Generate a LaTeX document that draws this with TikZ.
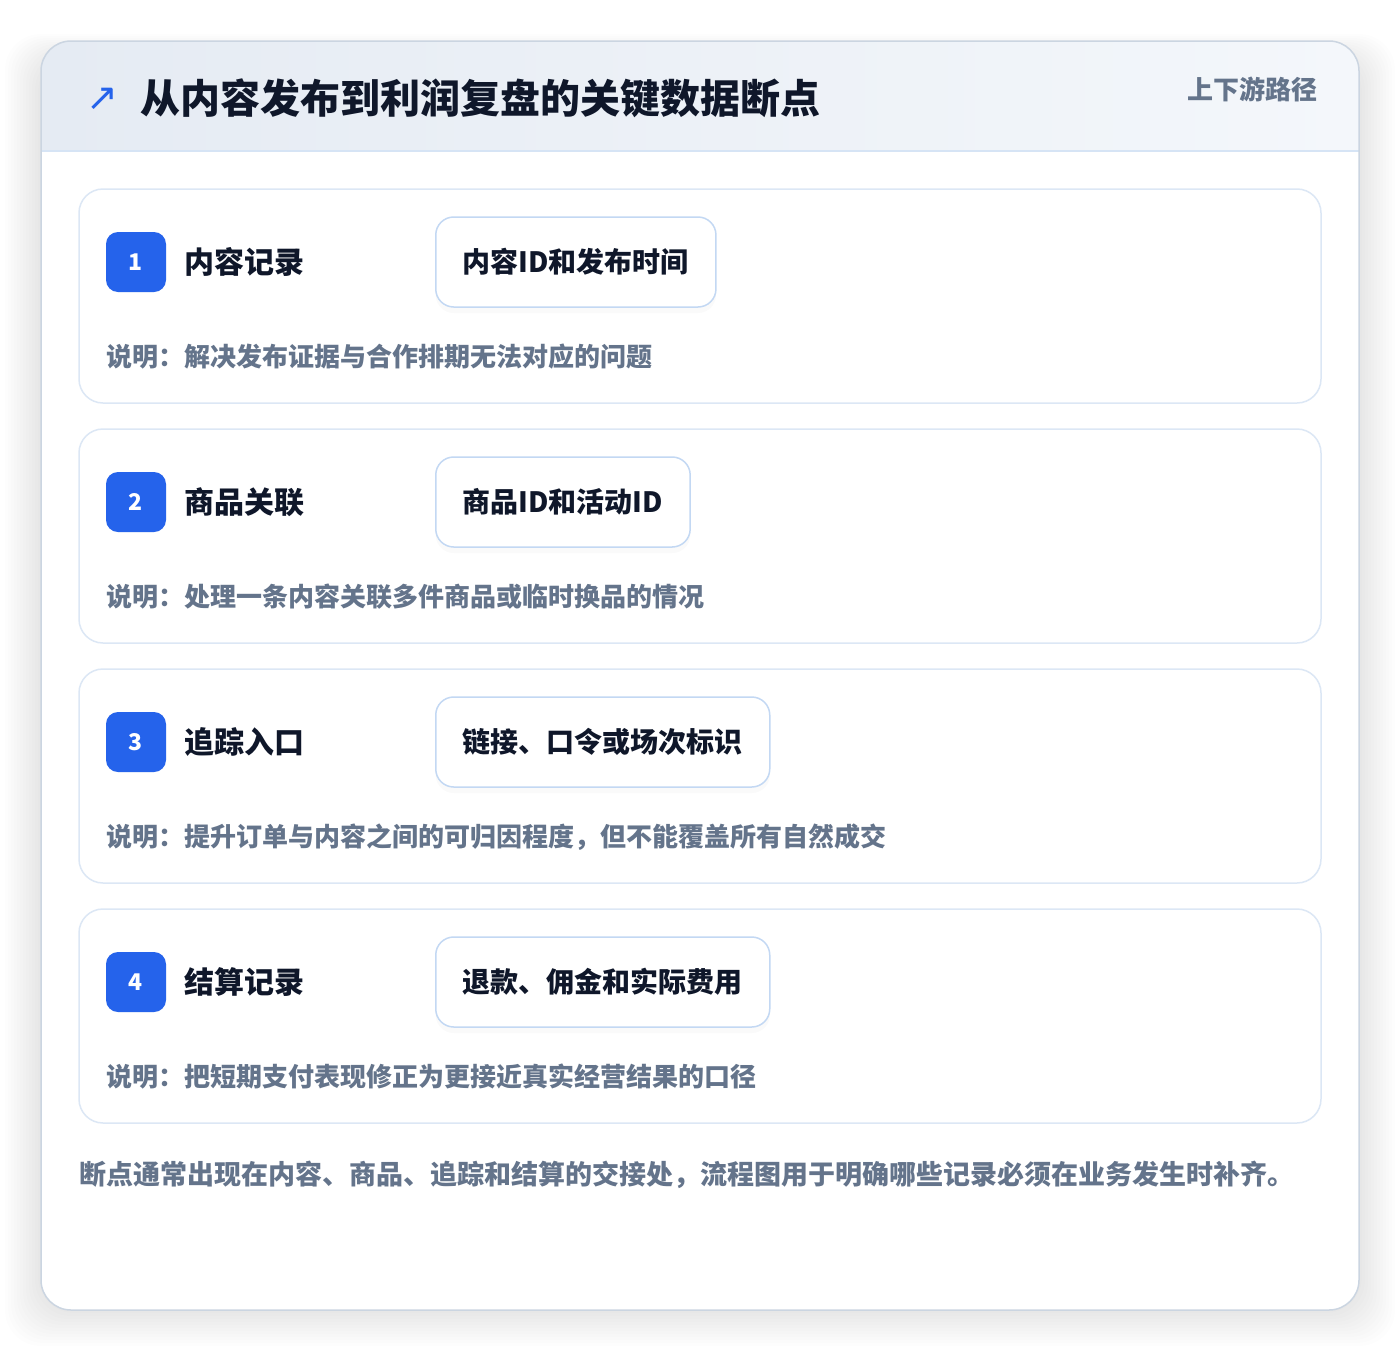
\documentclass[tikz,border=0pt]{standalone}
\usepackage{fontspec}
\setmainfont{Noto Sans CJK SC}
\newfontfamily\symfont{DejaVu Sans}
\usetikzlibrary{positioning,shadows}
\definecolor{ink}{HTML}{0F172A}
\definecolor{muted}{HTML}{64748B}
\definecolor{brand}{HTML}{2563EB}
\definecolor{cardline}{HTML}{CBD5E1}
\definecolor{stepline}{HTML}{DCE7F5}
\definecolor{tagline}{HTML}{C3D8F3}
\definecolor{headl}{HTML}{E5EBF3}
\definecolor{headr}{HTML}{F4F7FB}
\definecolor{headline}{HTML}{D6E4F5}
\tikzstyle{stepcard} = [draw=stepline, line width=1.5pt, fill=white, rounded corners=24pt, minimum width=1242pt, minimum height=214pt]
\tikzstyle{badge} = [fill=brand, rounded corners=12pt, minimum width=60pt, minimum height=60pt, inner sep=0pt, text=white, font=\fontsize{23}{25}\selectfont\bfseries]
\tikzstyle{steptitle} = [anchor=west, inner sep=0pt, text=ink, font=\fontsize{30}{32}\selectfont\bfseries]
\tikzstyle{tag} = [draw=tagline, line width=1.5pt, fill=white, rounded corners=18pt, minimum height=90pt, inner xsep=27pt, anchor=west, text=ink, font=\fontsize{28}{30}\selectfont\bfseries, drop shadow={opacity=0.04, shadow xshift=0pt, shadow yshift=-6pt}]
\tikzstyle{desc} = [anchor=west, inner sep=0pt, text=muted, font=\fontsize{26}{28}\selectfont\bfseries]

\begin{document}
\begin{tikzpicture}[x=1pt, y=-1pt]
    \useasboundingbox (0,0) rectangle (1400,1352);
    \fill[white] (0,0) rectangle (1400,1352);

    % soft shadow under the outer card
    \foreach \i in {1,...,12}
      \fill[black, opacity=0.006, rounded corners=36pt] ({41-\i*3},{58-\i*2}) rectangle ({1359+\i*3},{1310+\i*3});
    \fill[white, rounded corners=30pt] (41,41) rectangle (1359,1310);

    % header band
    \begin{scope}
      \clip[rounded corners=30pt] (41,41) rectangle (1359,1310);
      \shade[left color=headl, right color=headr] (41,41) rectangle (1359,151);
    \end{scope}
    \draw[headline, line width=2pt] (41,151) -- (1359,151);
    \draw[cardline, line width=1.5pt, rounded corners=30pt] (41,41) rectangle (1359,1310);

    \node (icon) [text=brand, font=\symfont\fontsize{38}{40}\selectfont] at (102,99) {↗};
    \node (head) [anchor=west, inner sep=0pt, text=ink, font=\fontsize{40}{42}\selectfont\bfseries] at (140,98) {从内容发布到利润复盘的关键数据断点};
    \node (path) [anchor=east, inner sep=0pt, text=muted, font=\fontsize{26}{28}\selectfont\bfseries] at (1318,89) {上下游路径};

    \node (card1) [stepcard] at (700,296) {};
    \node (badge1) [badge] at (136,262) {1};
    \node (name1) [steptitle, right=18pt of badge1] {内容记录};
    \node (tag1) [tag] at (435,262) {内容ID和发布时间}; % content id + publish time
    \node (desc1) [desc] at (106,357) {说明：解决发布证据与合作排期无法对应的问题};

    \node (card2) [stepcard] at (700,536) {};
    \node (badge2) [badge] at (136,502) {2};
    \node (name2) [steptitle, right=18pt of badge2] {商品关联};
    \node (tag2) [tag] at (435,502) {商品ID和活动ID}; % product id + campaign id
    \node (desc2) [desc] at (106,597) {说明：处理一条内容关联多件商品或临时换品的情况};

    \node (card3) [stepcard] at (700,776) {};
    \node (badge3) [badge] at (136,742) {3};
    \node (name3) [steptitle, right=18pt of badge3] {追踪入口};
    \node (tag3) [tag] at (435,742) {链接、口令或场次标识}; % link, code or session mark
    \node (desc3) [desc] at (106,837) {说明：提升订单与内容之间的可归因程度，但不能覆盖所有自然成交};

    \node (card4) [stepcard] at (700,1016) {};
    \node (badge4) [badge] at (136,982) {4};
    \node (name4) [steptitle, right=18pt of badge4] {结算记录};
    \node (tag4) [tag] at (435,982) {退款、佣金和实际费用}; % refunds, commission, real cost
    \node (desc4) [desc] at (106,1077) {说明：把短期支付表现修正为更接近真实经营结果的口径};

    \node (note) [anchor=west, inner sep=0pt, text=muted, font=\fontsize{27}{29}\selectfont\bfseries] at (79,1175) {断点通常出现在内容、商品、追踪和结算的交接处，流程图用于明确哪些记录必须在业务发生时补齐。};
  \end{tikzpicture}
\end{document}
